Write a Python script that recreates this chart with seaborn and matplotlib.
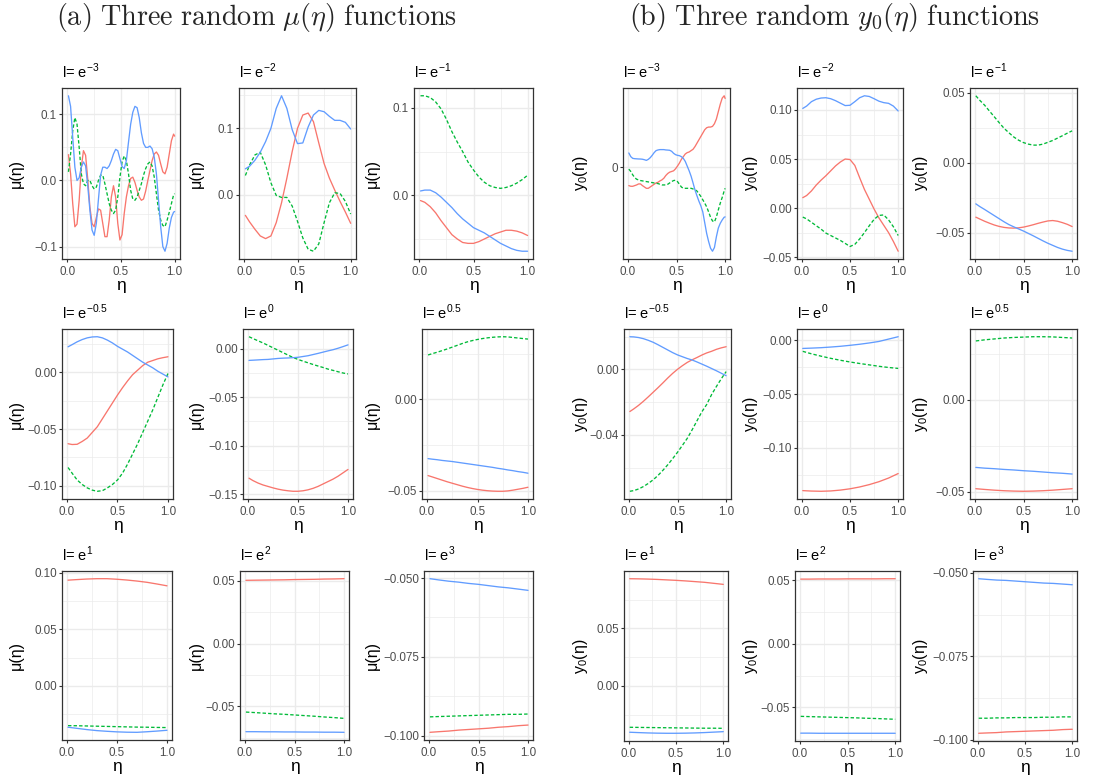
import matplotlib
matplotlib.use("Agg")
import matplotlib.pyplot as plt
import pandas as pd
import seaborn as sns

sns.set_theme(style="whitegrid")
plt.rcParams["font.family"] = ["Liberation Sans", "DejaVu Sans"]

# ---------------------------------------------------------------- grids of eta
ETA_FINE = [0.01, 0.03, 0.05, 0.07, 0.09, 0.11, 0.13, 0.15, 0.17, 0.19,
            0.21, 0.23, 0.25, 0.27, 0.29, 0.31, 0.33, 0.35, 0.37, 0.39,
            0.41, 0.43, 0.45, 0.47, 0.49, 0.51, 0.53, 0.55, 0.57, 0.59,
            0.61, 0.63, 0.65, 0.67, 0.69, 0.71, 0.73, 0.75, 0.77, 0.79,
            0.81, 0.83, 0.85, 0.87, 0.89, 0.91, 0.93, 0.95, 0.97, 0.99,
            1.00]
ETA_MID = [0.01, 0.05, 0.10, 0.15, 0.20, 0.25, 0.30, 0.35, 0.40, 0.45, 0.50,
           0.55, 0.60, 0.65, 0.70, 0.75, 0.80, 0.85, 0.90, 0.95, 1.00]
ETA_COARSE = [0.01, 0.1, 0.2, 0.3, 0.4, 0.5, 0.6, 0.7, 0.8, 0.9, 1.0]

EXPONENTS = ["-3", "-2", "-1", "-0.5", "0", "0.5", "1", "2", "3"]

# ---------------------------------------------------------------- mu(eta)
MU_1_RED = [0.039, 0.010, -0.035, -0.070, -0.066, -0.030, 0.020, 0.045, 0.038, 0.002,
            -0.040, -0.065, -0.070, -0.056, -0.043, -0.045, -0.065, -0.085, -0.085, -0.060,
            -0.025, -0.008, -0.025, -0.065, -0.090, -0.082, -0.050, -0.025, -0.008, 0.003,
            0.005, -0.003, -0.015, -0.025, -0.030, -0.028, -0.016, 0.000, 0.015, 0.030,
            0.040, 0.043, 0.038, 0.025, 0.013, 0.010, 0.020, 0.040, 0.060, 0.070,
            0.067]
MU_1_GREEN = [0.013, 0.040, 0.075, 0.095, 0.085, 0.050, 0.010, -0.005, -0.008, 0.000,
              0.000, -0.008, -0.013, -0.010, 0.000, 0.008, 0.008, -0.005, -0.020, -0.035,
              -0.045, -0.050, -0.045, -0.025, 0.005, 0.028, 0.037, 0.030, 0.010, -0.015,
              -0.028, -0.030, -0.025, -0.015, -0.005, 0.008, 0.018, 0.025, 0.028, 0.022,
              0.005, -0.020, -0.045, -0.060, -0.068, -0.070, -0.060, -0.048, -0.035, -0.022,
              -0.020]
MU_1_BLUE = [0.128, 0.112, 0.065, 0.020, 0.000, 0.004, 0.020, 0.028, 0.022, -0.008,
             -0.045, -0.075, -0.083, -0.065, -0.028, 0.008, 0.020, 0.020, 0.018, 0.022,
             0.030, 0.040, 0.047, 0.045, 0.033, 0.021, 0.018, 0.030, 0.058, 0.085,
             0.103, 0.112, 0.110, 0.095, 0.072, 0.056, 0.050, 0.050, 0.052, 0.048,
             0.035, 0.010, -0.030, -0.070, -0.100, -0.107, -0.095, -0.072, -0.056, -0.048,
             -0.047]

MU_2_RED = [-0.031, -0.041, -0.052, -0.062, -0.066, -0.062, -0.042, -0.012, 0.025, 0.065, 0.100,
            0.120, 0.123, 0.110, 0.078, 0.047, 0.025, 0.007, -0.010, -0.026, -0.043]
MU_2_GREEN = [0.029, 0.045, 0.060, 0.064, 0.045, 0.018, -0.001, -0.004, -0.004, -0.017, -0.040,
              -0.065, -0.082, -0.085, -0.074, -0.042, -0.012, 0.003, 0.002, -0.010, -0.029]
MU_2_BLUE = [0.039, 0.043, 0.052, 0.064, 0.080, 0.100, 0.130, 0.149, 0.130, 0.098, 0.077,
             0.078, 0.102, 0.120, 0.127, 0.125, 0.118, 0.112, 0.112, 0.109, 0.099]

MU_3_RED = [-0.006, -0.008, -0.013, -0.020, -0.029, -0.037, -0.045, -0.050, -0.054, -0.055, -0.055,
            -0.053, -0.050, -0.047, -0.044, -0.042, -0.040, -0.040, -0.041, -0.043, -0.046]
MU_3_GREEN = [0.114, 0.114, 0.112, 0.107, 0.099, 0.087, 0.073, 0.061, 0.050, 0.038, 0.029,
              0.021, 0.015, 0.011, 0.009, 0.008, 0.009, 0.011, 0.014, 0.018, 0.023]
MU_3_BLUE = [0.005, 0.006, 0.006, 0.003, -0.002, -0.008, -0.014, -0.021, -0.027, -0.032, -0.037,
             -0.040, -0.043, -0.047, -0.051, -0.055, -0.058, -0.061, -0.063, -0.064, -0.064]

MU_4_RED = [-0.063, -0.0637, -0.0635, -0.061, -0.058, -0.053, -0.048, -0.041, -0.034, -0.027, -0.020,
            -0.0135, -0.0075, -0.002, 0.002, 0.006, 0.009, 0.0105, 0.012, 0.013, 0.0138]
MU_4_GREEN = [-0.084, -0.089, -0.095, -0.099, -0.102, -0.104, -0.105, -0.1045, -0.102, -0.099, -0.095,
              -0.089, -0.081, -0.072, -0.063, -0.053, -0.043, -0.033, -0.022, -0.011, -0.001]
MU_4_BLUE = [0.0226, 0.0245, 0.027, 0.029, 0.0305, 0.0313, 0.0315, 0.0305, 0.0285, 0.026, 0.023,
             0.0205, 0.018, 0.015, 0.012, 0.009, 0.0065, 0.004, 0.001, -0.0015, -0.004]

MU_5_RED = [-0.1335, -0.136, -0.1385, -0.1405, -0.142, -0.1435, -0.1448, -0.1458, -0.1465, -0.147, -0.147,
            -0.1465, -0.1455, -0.144, -0.142, -0.1395, -0.137, -0.1345, -0.1315, -0.128, -0.1245]
MU_5_GREEN = [0.0124, 0.0105, 0.0082, 0.006, 0.0035, 0.001, -0.0015, -0.004, -0.0065, -0.009, -0.011,
              -0.0128, -0.0145, -0.0162, -0.0178, -0.0193, -0.021, -0.0223, -0.0237, -0.025, -0.026]
MU_5_BLUE = [-0.012, -0.0118, -0.0115, -0.0112, -0.011, -0.0105, -0.010, -0.0097, -0.0095, -0.0092, -0.0088,
             -0.008, -0.0072, -0.006, -0.0048, -0.0035, -0.0022, -0.001, 0.0005, 0.0022, 0.004]

MU_6_RED = [-0.0418, -0.0425, -0.0434, -0.0443, -0.0452, -0.046, -0.0468, -0.0476, -0.0483, -0.0489, -0.0494,
            -0.0498, -0.0501, -0.0503, -0.0504, -0.0504, -0.0502, -0.0498, -0.0493, -0.0488, -0.0482]
MU_6_GREEN = [0.0243, 0.025, 0.0258, 0.0267, 0.0276, 0.0286, 0.0296, 0.0306, 0.0315, 0.0322, 0.0328,
              0.0333, 0.0337, 0.034, 0.0342, 0.0343, 0.0342, 0.0339, 0.0336, 0.0333, 0.033]
MU_6_BLUE = [-0.0325, -0.0328, -0.0331, -0.0335, -0.0338, -0.0341, -0.0345, -0.0349, -0.0353, -0.0357, -0.0361,
             -0.0365, -0.0369, -0.0373, -0.0378, -0.0382, -0.0387, -0.0391, -0.0396, -0.040, -0.0405]

MU_7_RED = [0.0933, 0.0938, 0.0943, 0.0946, 0.0946, 0.0941, 0.0934, 0.0925, 0.0914, 0.0899, 0.0883]
MU_7_GREEN = [-0.0351, -0.0352, -0.0354, -0.0356, -0.0358, -0.036, -0.0362, -0.0364, -0.0365, -0.0367, -0.0368]
MU_7_BLUE = [-0.0365, -0.0375, -0.0386, -0.0395, -0.0401, -0.0406, -0.0409, -0.041, -0.0405, -0.0399, -0.0392]

MU_8_RED = [0.0503, 0.0504, 0.0505, 0.0506, 0.0507, 0.0509, 0.051, 0.0511, 0.0513, 0.0514, 0.0516]
MU_8_GREEN = [-0.0545, -0.0549, -0.0554, -0.0559, -0.0563, -0.0568, -0.0573, -0.0578, -0.0584, -0.0589, -0.0595]
MU_8_BLUE = [-0.0701, -0.0701, -0.0702, -0.0702, -0.0703, -0.0703, -0.0704, -0.0704, -0.0705, -0.0705, -0.0706]

MU_9_RED = [-0.0989, -0.0987, -0.0985, -0.0982, -0.098, -0.0978, -0.0976, -0.0973, -0.0971, -0.0968, -0.0966]
MU_9_GREEN = [-0.094, -0.0939, -0.0938, -0.0937, -0.0936, -0.0935, -0.0934, -0.0933, -0.0932, -0.0932, -0.0931]
MU_9_BLUE = [-0.0502, -0.0506, -0.051, -0.0513, -0.0517, -0.052, -0.0524, -0.0528, -0.0531, -0.0535, -0.0539]

# ---------------------------------------------------------------- y0(eta)
Y0_1_RED = [-0.027, -0.028, -0.028, -0.027, -0.026, -0.0245, -0.0245, -0.027, -0.029, -0.031,
            -0.031, -0.029, -0.027, -0.025, -0.023, -0.022, -0.020, -0.0185, -0.016, -0.012,
            -0.009, -0.007, -0.006, -0.005, -0.002, 0.002, 0.0065, 0.012, 0.016, 0.020,
            0.022, 0.023, 0.025, 0.027, 0.031, 0.036, 0.041, 0.046, 0.051, 0.056,
            0.059, 0.060, 0.060, 0.061, 0.065, 0.072, 0.083, 0.094, 0.103, 0.1065,
            0.1025]
Y0_1_GREEN = [-0.0025, -0.006, -0.011, -0.015, -0.0175, -0.0185, -0.0195, -0.020, -0.0205, -0.021,
              -0.0215, -0.022, -0.0225, -0.023, -0.0235, -0.024, -0.025, -0.026, -0.026, -0.026,
              -0.025, -0.023, -0.021, -0.0195, -0.019, -0.021, -0.025, -0.029, -0.031, -0.031,
              -0.031, -0.031, -0.031, -0.032, -0.033, -0.035, -0.039, -0.043, -0.048, -0.053,
              -0.0585, -0.066, -0.074, -0.0795, -0.081, -0.0735, -0.063, -0.053, -0.0445, -0.035,
              -0.031]
Y0_1_BLUE = [0.0215, 0.016, 0.0135, 0.013, 0.0128, 0.0126, 0.0125, 0.0122, 0.0115, 0.0105,
             0.012, 0.0145, 0.018, 0.022, 0.025, 0.026, 0.0265, 0.0265, 0.0265, 0.026,
             0.0258, 0.0255, 0.024, 0.021, 0.019, 0.018, 0.0175, 0.016, 0.0135, 0.009,
             0.002, -0.005, -0.013, -0.023, -0.0335, -0.042, -0.050, -0.057, -0.066, -0.082,
             -0.098, -0.110, -0.120, -0.1245, -0.119, -0.103, -0.090, -0.083, -0.078, -0.074,
             -0.0735]

Y0_2_RED = [0.0106, 0.0128, 0.0175, 0.0235, 0.0285, 0.033, 0.038, 0.043, 0.047, 0.050, 0.0495,
            0.0435, 0.031, 0.019, 0.009, -0.001, -0.010, -0.0175, -0.025, -0.034, -0.044]
Y0_2_GREEN = [-0.0092, -0.011, -0.0145, -0.018, -0.0215, -0.0255, -0.028, -0.0305, -0.033, -0.036, -0.0392,
              -0.037, -0.0315, -0.025, -0.018, -0.0115, -0.0075, -0.007, -0.012, -0.019, -0.028]
Y0_2_BLUE = [0.1016, 0.104, 0.1085, 0.111, 0.1122, 0.1125, 0.1115, 0.1095, 0.107, 0.1045, 0.1048,
             0.1085, 0.1125, 0.1145, 0.1138, 0.1115, 0.109, 0.1075, 0.1068, 0.104, 0.099]

Y0_3_RED = [-0.0389, -0.0402, -0.0418, -0.0432, -0.0445, -0.0455, -0.0462, -0.0466, -0.0467, -0.0465, -0.046,
            -0.0452, -0.0443, -0.0433, -0.0424, -0.0416, -0.0413, -0.0418, -0.0428, -0.044, -0.0456]
Y0_3_GREEN = [0.0477, 0.0445, 0.041, 0.0368, 0.0327, 0.0285, 0.0245, 0.0213, 0.0183, 0.016, 0.0143,
              0.0132, 0.0125, 0.0125, 0.0132, 0.0145, 0.0158, 0.0175, 0.0192, 0.021, 0.0227]
Y0_3_BLUE = [-0.0294, -0.0313, -0.0334, -0.0356, -0.0378, -0.040, -0.0422, -0.0442, -0.0458, -0.0473, -0.0488,
             -0.0505, -0.0522, -0.054, -0.0558, -0.0575, -0.059, -0.0605, -0.0617, -0.0626, -0.0632]

Y0_4_RED = [-0.0258, -0.0242, -0.022, -0.0195, -0.0168, -0.014, -0.0112, -0.0083, -0.0053, -0.0025, 0.0,
            0.0022, 0.0042, 0.0058, 0.0072, 0.0087, 0.010, 0.011, 0.0122, 0.0131, 0.0138]
Y0_4_GREEN = [-0.0745, -0.0741, -0.0731, -0.0716, -0.0697, -0.0675, -0.0648, -0.0617, -0.0583, -0.0546, -0.0507,
              -0.0465, -0.0422, -0.037, -0.0315, -0.026, -0.0215, -0.0155, -0.0105, -0.0058, -0.0014]
Y0_4_BLUE = [0.0199, 0.0198, 0.0194, 0.0187, 0.0177, 0.0165, 0.015, 0.0134, 0.0118, 0.0102, 0.0088,
             0.0077, 0.0066, 0.0057, 0.0045, 0.0032, 0.0019, 0.0005, -0.0009, -0.0024, -0.0039]

Y0_5_RED = [-0.1398, -0.1402, -0.1404, -0.1401, -0.1393, -0.1381, -0.1364, -0.1342, -0.1315, -0.1281, -0.1239]
Y0_5_GREEN = [-0.0102, -0.0125, -0.0147, -0.0167, -0.0185, -0.0201, -0.0215, -0.0228, -0.0241, -0.0252, -0.0261]
Y0_5_BLUE = [-0.0075, -0.0072, -0.0068, -0.0062, -0.0055, -0.0046, -0.0036, -0.0024, -0.001, 0.0012, 0.0034]

Y0_6_RED = [-0.0484, -0.0488, -0.0492, -0.0495, -0.0497, -0.0498, -0.0497, -0.0495, -0.0492, -0.0488, -0.0484]
Y0_6_GREEN = [0.0321, 0.0327, 0.0332, 0.0337, 0.034, 0.0342, 0.0344, 0.0344, 0.0343, 0.034, 0.0337]
Y0_6_BLUE = [-0.0368, -0.0372, -0.0375, -0.0379, -0.0382, -0.0386, -0.0389, -0.0393, -0.0397, -0.040, -0.0404]

Y0_7_RED = [0.0931, 0.093, 0.0928, 0.0925, 0.0921, 0.0917, 0.0912, 0.0906, 0.090, 0.0891, 0.0882]
Y0_7_GREEN = [-0.0359, -0.036, -0.0361, -0.0362, -0.0363, -0.0364, -0.0365, -0.0366, -0.0367, -0.0367, -0.0368]
Y0_7_BLUE = [-0.0402, -0.0405, -0.0408, -0.041, -0.0411, -0.0411, -0.041, -0.0408, -0.0405, -0.0401, -0.0397]

Y0_8_RED = [0.0509, 0.0509, 0.051, 0.051, 0.051, 0.0511, 0.0511, 0.0511, 0.0511, 0.0512, 0.0512]
Y0_8_GREEN = [-0.057, -0.0572, -0.0574, -0.0576, -0.0578, -0.058, -0.0582, -0.0585, -0.0587, -0.059, -0.0593]
Y0_8_BLUE = [-0.0702, -0.0702, -0.0703, -0.0703, -0.0703, -0.0703, -0.0703, -0.0703, -0.0703, -0.0703, -0.0703]

Y0_9_RED = [-0.098, -0.0979, -0.0978, -0.0976, -0.0975, -0.0974, -0.0973, -0.0972, -0.0971, -0.0969, -0.0968]
Y0_9_GREEN = [-0.0935, -0.0935, -0.0934, -0.0934, -0.0933, -0.0933, -0.0933, -0.0932, -0.0932, -0.0931, -0.0931]
Y0_9_BLUE = [-0.0518, -0.052, -0.0522, -0.0523, -0.0525, -0.0527, -0.0529, -0.0531, -0.0532, -0.0534, -0.0536]

# ---------------------------------------------------------------- y axis breaks
MU_YTICKS = [
    ([-0.1, 0.0, 0.1], ["\u22120.1", "0.0", "0.1"]),
    ([0.0, 0.1], ["0.0", "0.1"]),
    ([0.0, 0.1], ["0.0", "0.1"]),
    ([-0.10, -0.05, 0.00], ["\u22120.10", "\u22120.05", "0.00"]),
    ([-0.15, -0.10, -0.05, 0.00], ["\u22120.15", "\u22120.10", "\u22120.05", "0.00"]),
    ([-0.05, 0.00], ["\u22120.05", "0.00"]),
    ([0.00, 0.05, 0.10], ["0.00", "0.05", "0.10"]),
    ([-0.05, 0.00, 0.05], ["\u22120.05", "0.00", "0.05"]),
    ([-0.100, -0.075, -0.050], ["\u22120.100", "\u22120.075", "\u22120.050"]),
]
Y0_YTICKS = [
    ([0.0], ["0"]),
    ([-0.05, 0.00, 0.05, 0.10], ["\u22120.05", "0.00", "0.05", "0.10"]),
    ([-0.05, 0.00, 0.05], ["\u22120.05", "0.00", "0.05"]),
    ([-0.04, 0.00], ["\u22120.04", "0.00"]),
    ([-0.10, -0.05, 0.00], ["\u22120.10", "\u22120.05", "0.00"]),
    ([-0.05, 0.00], ["\u22120.05", "0.00"]),
    ([0.00, 0.05], ["0.00", "0.05"]),
    ([-0.05, 0.00, 0.05], ["\u22120.05", "0.00", "0.05"]),
    ([-0.100, -0.075, -0.050], ["\u22120.100", "\u22120.075", "\u22120.050"]),
]

MU_PANELS = [
    (ETA_FINE, MU_1_RED, MU_1_GREEN, MU_1_BLUE),
    (ETA_MID, MU_2_RED, MU_2_GREEN, MU_2_BLUE),
    (ETA_MID, MU_3_RED, MU_3_GREEN, MU_3_BLUE),
    (ETA_MID, MU_4_RED, MU_4_GREEN, MU_4_BLUE),
    (ETA_MID, MU_5_RED, MU_5_GREEN, MU_5_BLUE),
    (ETA_MID, MU_6_RED, MU_6_GREEN, MU_6_BLUE),
    (ETA_COARSE, MU_7_RED, MU_7_GREEN, MU_7_BLUE),
    (ETA_COARSE, MU_8_RED, MU_8_GREEN, MU_8_BLUE),
    (ETA_COARSE, MU_9_RED, MU_9_GREEN, MU_9_BLUE),
]
Y0_PANELS = [
    (ETA_FINE, Y0_1_RED, Y0_1_GREEN, Y0_1_BLUE),
    (ETA_MID, Y0_2_RED, Y0_2_GREEN, Y0_2_BLUE),
    (ETA_MID, Y0_3_RED, Y0_3_GREEN, Y0_3_BLUE),
    (ETA_MID, Y0_4_RED, Y0_4_GREEN, Y0_4_BLUE),
    (ETA_COARSE, Y0_5_RED, Y0_5_GREEN, Y0_5_BLUE),
    (ETA_COARSE, Y0_6_RED, Y0_6_GREEN, Y0_6_BLUE),
    (ETA_COARSE, Y0_7_RED, Y0_7_GREEN, Y0_7_BLUE),
    (ETA_COARSE, Y0_8_RED, Y0_8_GREEN, Y0_8_BLUE),
    (ETA_COARSE, Y0_9_RED, Y0_9_GREEN, Y0_9_BLUE),
]

# ---------------------------------------------------------------- layout (pixels)
W, H = 1102, 777
RECTS_MU = [(62, 88, 180, 259), (239, 88, 356, 259), (414, 88, 533, 259),
            (62, 329, 173, 499), (243, 329, 353, 499), (422, 329, 533, 499),
            (62, 571, 172, 740), (240, 571, 349, 740), (424, 571, 533, 740)]
RECTS_Y0 = [(623, 88, 730, 259), (797, 88, 903, 259), (970, 88, 1077, 259),
            (624, 329, 731, 499), (797, 329, 903, 499), (970, 329, 1077, 499),
            (624, 571, 728, 741), (795, 571, 900, 741), (973, 571, 1077, 741)]
YLAB_X_MU = [16, 196, 372]
YLAB_X_Y0 = [580, 751, 921]

PALETTE = {"r": "#F8766D", "g": "#00BA38", "b": "#619CFF"}
DASHES = {"r": "", "g": (2.6, 1.6), "b": ""}
BORDER = "#333333"
GRID = "#EBEBEB"
YLAB_MU = "\u03bc(\u03b7)"
YLAB_Y0 = "y$_{\\mathregular{0}}$(\u03b7)"

fig = plt.figure(figsize=(W / 100, H / 100), dpi=100)
fig.patch.set_facecolor("white")


def draw_panel(rect, curves, ticks, exponent, ylabel, ylab_x):
    left, top, right, bottom = rect
    ax = fig.add_axes([left / W, 1 - bottom / H, (right - left) / W, (bottom - top) / H])
    eta, red, green, blue = curves
    n = len(eta)
    df = pd.DataFrame({
        "eta": list(eta) * 3,
        "value": list(red) + list(green) + list(blue),
        "curve": ["r"] * n + ["g"] * n + ["b"] * n,
    })
    sns.lineplot(data=df, x="eta", y="value", hue="curve", style="curve",
                 hue_order=["r", "g", "b"], style_order=["r", "g", "b"],
                 palette=PALETTE, dashes=DASHES, linewidth=0.95,
                 estimator=None, sort=False, legend=False, ax=ax)

    vals = list(red) + list(green) + list(blue)
    lo, hi = min(vals), max(vals)
    pad = 0.05 * (hi - lo)
    ylim = (lo - pad, hi + pad)

    major, labels = ticks
    minor = []
    if len(major) > 1:
        step = major[1] - major[0]
        cands = [major[0] - step / 2] + [(a + b) / 2 for a, b in zip(major[:-1], major[1:])] \
            + [major[-1] + step / 2]
        minor = [m for m in cands if ylim[0] < m < ylim[1]]

    ax.set_xticks([0.0, 0.5, 1.0])
    ax.set_xticklabels(["0.0", "0.5", "1.0"])
    ax.set_xticks([0.25, 0.75], minor=True)
    ax.set_yticks(major)
    ax.set_yticklabels(labels)
    ax.set_yticks(minor, minor=True)
    ax.set_xlim(-0.05, 1.05)
    ax.set_ylim(*ylim)

    ax.set_facecolor("white")
    ax.set_axisbelow(True)
    ax.grid(which="major", color=GRID, linewidth=1.0)
    ax.grid(which="minor", color=GRID, linewidth=0.5)
    ax.tick_params(which="major", length=2.5, width=0.8, color=BORDER,
                   labelsize=8.4, labelcolor="#4D4D4D",
                   left=True, bottom=True)
    ax.tick_params(axis="x", which="major", pad=2.6)
    ax.tick_params(axis="y", which="major", pad=1.2)
    ax.tick_params(which="minor", length=0)
    for sp in ax.spines.values():
        sp.set_visible(True)
        sp.set_color(BORDER)
        sp.set_linewidth(0.9)

    ax.set_xlabel("\u03b7", fontsize=12.5, labelpad=0.0, color="black")
    ax.set_ylabel("")
    ax.set_title(r"l= e$^{\mathregular{" + exponent + r"}}$", loc="left",
                 fontsize=10.5, pad=7.5, color="black")
    fig.text(ylab_x / W, 1 - ((top + bottom) / 2) / H, ylabel, rotation=90,
             ha="center", va="center", fontsize=11.5, color="black")
    return ax


for i in range(9):
    draw_panel(RECTS_MU[i], MU_PANELS[i], MU_YTICKS[i], EXPONENTS[i],
               YLAB_MU, YLAB_X_MU[i % 3])
    draw_panel(RECTS_Y0[i], Y0_PANELS[i], Y0_YTICKS[i], EXPONENTS[i],
               YLAB_Y0, YLAB_X_Y0[i % 3])

fig.text(256 / W, 1 - 25 / H,
         r"$\mathrm{(a)\ Three\ random\ }\mu(\eta)\mathrm{\ functions}$",
         math_fontfamily="cm", fontsize=20.3, ha="center", va="baseline")
fig.text(834 / W, 1 - 25 / H,
         r"$\mathrm{(b)\ Three\ random\ }y_0(\eta)\mathrm{\ functions}$",
         math_fontfamily="cm", fontsize=20.3, ha="center", va="baseline")

fig.savefig("out.png", dpi=100, facecolor="white")
